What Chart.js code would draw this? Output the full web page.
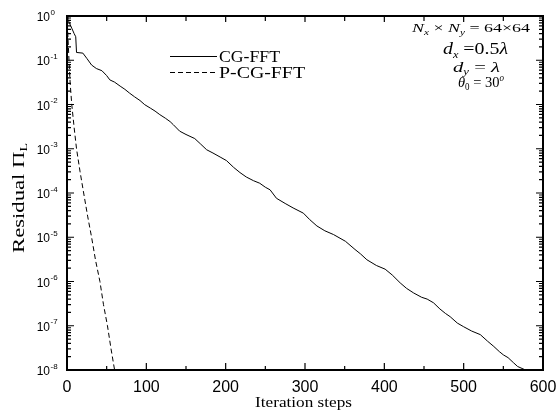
<!DOCTYPE html>
<html>
<head>
<meta charset="utf-8">
<script src="https://cdn.jsdelivr.net/npm/chart.js@4.4.1/dist/chart.umd.min.js"></script>
<style>
  html, body { margin: 0; padding: 0; background: #fff; }
  #wrap { width: 556px; height: 410px; }
</style>
</head>
<body>
<div id="wrap"><canvas id="residual-chart" width="556" height="410"></canvas></div>
<script>
// Convergence data
const cgIter = [0, 1, 3, 6, 9, 11, 12, 20, 25, 31, 37, 44, 50, 54, 60, 67, 73, 79, 85, 92, 98, 105, 111, 117, 124, 130, 134, 142, 150, 161, 168, 176, 184, 193, 201, 210, 218, 226, 235, 243, 250, 256, 264, 275, 285, 298, 306, 315, 325, 336, 351, 363, 370, 378, 390, 401, 410, 420, 428, 437, 447, 454, 462, 470, 477, 483, 492, 500, 510, 521, 530, 538, 545, 550, 556, 563, 568, 578];
const cgResidual = [1.0, 0.85, 0.7, 0.53, 0.4, 0.34, 0.15, 0.145, 0.11, 0.078, 0.065, 0.058, 0.045, 0.036, 0.032, 0.026, 0.022, 0.018, 0.015, 0.0123, 0.0099, 0.0083, 0.0071, 0.0059, 0.0049, 0.0041, 0.0035, 0.0025, 0.0021, 0.0017, 0.0013, 0.00095, 0.0008, 0.00065, 0.00054, 0.00038, 0.00029, 0.00023, 0.00019, 0.000166, 0.000135, 0.000118, 0.000076, 0.000058, 0.000046, 0.000035, 0.000025, 0.000018, 0.000014, 0.0000115, 0.0000081, 0.0000053, 0.0000042, 0.0000031, 0.0000023, 0.0000019, 0.0000014, 9.3e-7, 7e-7, 5.5e-7, 4.4e-7, 4.0e-7, 3.3e-7, 2.4e-7, 1.9e-7, 1.6e-7, 1.15e-7, 9.5e-8, 7.6e-8, 6.3e-8, 4.5e-8, 3.4e-8, 2.6e-8, 2.2e-8, 1.9e-8, 1.45e-8, 1.2e-8, 1.0e-8];

const pcgIter = [0, 1, 2.5, 4, 6, 9, 12, 16.5, 21, 26, 31, 36, 41.5, 46, 51, 55.5, 60];
const pcgResidual = [1.0, 0.4, 0.1, 0.03, 0.01, 0.003, 1e-3, 3e-4, 1e-4, 3e-5, 1e-5, 3e-6, 1e-6, 3e-7, 1e-7, 3e-8, 1e-8];

const seriesNames = ['CG-FFT', 'P-CG-FFT'];
const xTicks = [0, 100, 200, 300, 400, 500, 600];
const xMinorTicks = [50, 150, 250, 350, 450, 550];
const yExponents = [0, -1, -2, -3, -4, -5, -6, -7, -8];

const serif = '"Liberation Serif", "Times New Roman", serif';
const sans = '"Liberation Sans", Arial, sans-serif';

// draw a run of text pieces (italic / sub / sup), stretched to a width
function richText(c, parts, x, y, size, width, align) {
  const pieces = parts.map(p => {
    const s = (p.sub || p.sup) ? size * 0.62 : size;
    const font = (p.it ? 'italic ' : '') + s + 'px ' + serif;
    c.font = font;
    return { t: p.t, font: font, w: c.measureText(p.t).width, dy: p.sub ? size * 0.22 : p.sup ? -size * 0.42 : 0 };
  });
  const total = pieces.reduce((a, p) => a + p.w, 0);
  const k = width ? width / total : 1;
  c.save();
  c.translate(x, y);
  c.scale(k, 1);
  let cx = align === 'center' ? -total / 2 : 0;
  c.textAlign = 'left';
  c.textBaseline = 'alphabetic';
  pieces.forEach(p => {
    c.font = p.font;
    c.fillText(p.t, cx, p.dy);
    cx += p.w;
  });
  c.restore();
}

const framePlugin = {
  id: 'frame',
  afterDraw(chart) {
    const c = chart.ctx;
    const a = chart.chartArea;
    const xs = chart.scales.x;
    const ys = chart.scales.y;
    c.save();
    c.strokeStyle = '#000';
    c.fillStyle = '#000';

    // ticks, pointing inward
    c.lineWidth = 1.2;
    c.beginPath();
    xTicks.forEach(v => {
      const px = xs.getPixelForValue(v);
      c.moveTo(px, a.bottom); c.lineTo(px, a.bottom - 7);
      c.moveTo(px, a.top); c.lineTo(px, a.top + 6);
    });
    xMinorTicks.forEach(v => {
      const px = xs.getPixelForValue(v);
      c.moveTo(px, a.bottom); c.lineTo(px, a.bottom - 4);
      c.moveTo(px, a.top); c.lineTo(px, a.top + 5);
    });
    yExponents.forEach(e => {
      const py = ys.getPixelForValue(Math.pow(10, e));
      c.moveTo(a.left, py); c.lineTo(a.left + 7, py);
      c.moveTo(a.right, py); c.lineTo(a.right - 7, py);
      if (e > -8) {
        for (let m = 2; m <= 9; m++) {
          const pm = ys.getPixelForValue(m * Math.pow(10, e - 1));
          c.moveTo(a.left, pm); c.lineTo(a.left + 4, pm);
          c.moveTo(a.right, pm); c.lineTo(a.right - 4, pm);
        }
      }
    });
    c.stroke();

    // frame
    c.lineWidth = 2;
    c.strokeRect(a.left, a.top, a.right - a.left, a.bottom - a.top);

    // x tick labels
    c.font = '16px ' + sans;
    c.textAlign = 'center';
    c.textBaseline = 'alphabetic';
    xTicks.forEach(v => {
      c.fillText(String(v), xs.getPixelForValue(v), 391.5);
    });

    // y tick labels 10^n
    yExponents.forEach(e => {
      const py = ys.getPixelForValue(Math.pow(10, e));
      c.font = '12px ' + sans;
      c.textAlign = 'right';
      c.fillText('10', 50, py + 5);
      c.font = '8px ' + sans;
      c.textAlign = 'left';
      c.fillText(String(e), 50.5, py - 1.5);
    });

    // axis titles
    richText(c, [{ t: 'Iteration steps' }], (255 + 352) / 2, 407, 15, 97, 'center');
    c.save();
    c.translate(23.5, 198);
    c.rotate(-Math.PI / 2);
    richText(c, [{ t: 'Residual \u03A0' }, { t: 'L', sub: true }], 0, 0, 17, 110, 'center');
    c.restore();

    // legend
    c.lineWidth = 1;
    c.beginPath();
    c.moveTo(170, 56.5); c.lineTo(217, 56.5);
    c.stroke();
    c.setLineDash([5, 3]);
    c.beginPath();
    c.moveTo(170, 72.5); c.lineTo(217, 72.5);
    c.stroke();
    c.setLineDash([]);
    richText(c, [{ t: seriesNames[0] }], 219, 62.3, 16, 61);
    richText(c, [{ t: seriesNames[1] }], 219, 77.5, 16, 86);

    // parameters
    richText(c, [{ t: 'N', it: true }, { t: 'x', it: true, sub: true }, { t: ' \u00D7 ' }, { t: 'N', it: true }, { t: 'y', it: true, sub: true }, { t: ' = 64\u00D764' }], 412, 32.3, 13, 118);
    richText(c, [{ t: 'd', it: true }, { t: 'x', it: true, sub: true }, { t: ' =0.5' }, { t: '\u03BB', it: true }], 443, 54, 16, 65);
    richText(c, [{ t: 'd', it: true }, { t: 'y', it: true, sub: true }, { t: ' = ' }, { t: '\u03BB', it: true }], 453, 71.5, 15, 47);
    richText(c, [{ t: '\u03B8', it: true }, { t: '0', sub: true }, { t: ' = 30' }, { t: 'o', it: true, sup: true }], 458, 87, 15, 46);

    c.restore();
  }
};

const ctx = document.getElementById('residual-chart').getContext('2d');
new Chart(ctx, {
  type: 'line',
  data: {
    datasets: [{
      label: seriesNames[0],
      data: cgIter.map((x, i) => ({ x: x, y: cgResidual[i] })),
      borderColor: '#000',
      borderWidth: 1,
      pointRadius: 0,
      tension: 0,
      fill: false
    }, {
      label: seriesNames[1],
      data: pcgIter.map((x, i) => ({ x: x, y: pcgResidual[i] })),
      borderColor: '#000',
      borderWidth: 1,
      borderDash: [5, 3],
      pointRadius: 0,
      tension: 0,
      fill: false
    }]
  },
  options: {
    responsive: false,
    animation: false,
    layout: { padding: { top: 16, right: 13, left: 0, bottom: 0 } },
    scales: {
      x: {
        type: 'linear', min: 0, max: 600,
        ticks: { display: false },
        grid: { display: false },
        border: { display: false },
        afterFit: s => { s.height = 40; }
      },
      y: {
        type: 'logarithmic', min: 1e-8, max: 1,
        ticks: { display: false },
        grid: { display: false },
        border: { display: false },
        afterFit: s => { s.width = 67; }
      }
    },
    plugins: {
      legend: { display: false },
      tooltip: { enabled: false }
    }
  },
  plugins: [framePlugin]
});
</script>
</body>
</html>
